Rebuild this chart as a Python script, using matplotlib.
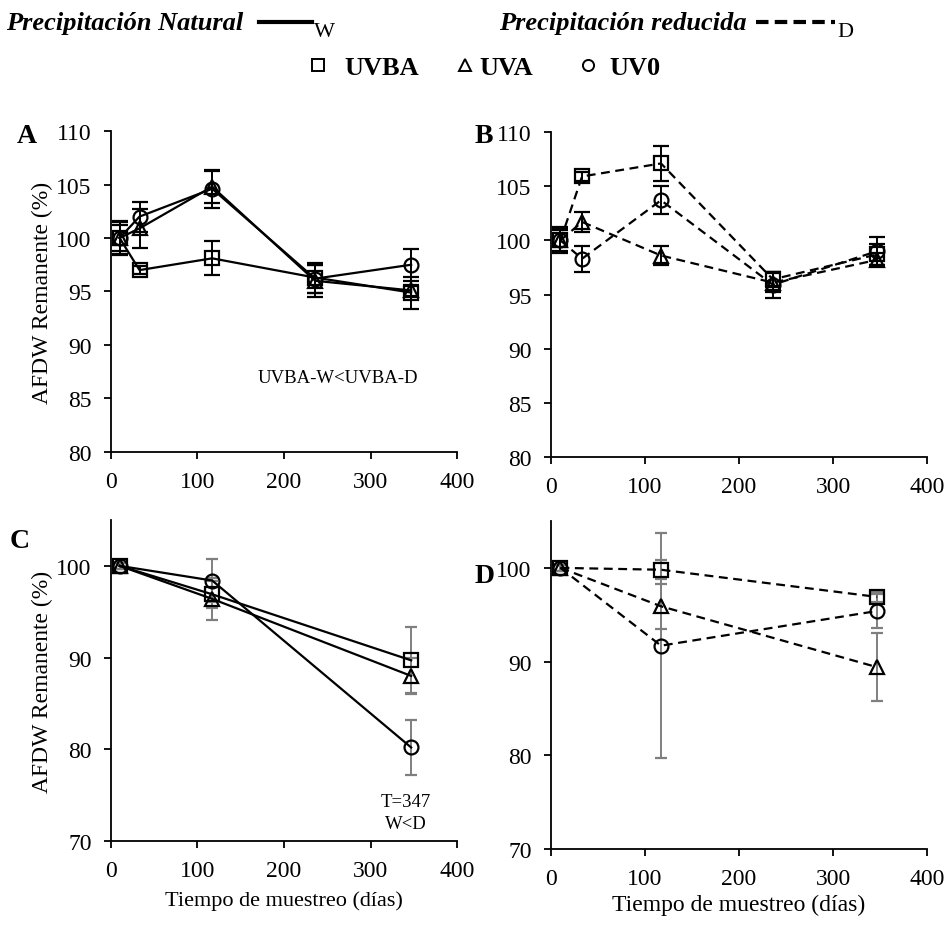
import matplotlib
matplotlib.use("Agg")
import matplotlib.pyplot as plt
from matplotlib.lines import Line2D

plt.rcParams["font.family"] = ["Liberation Serif", "DejaVu Serif"]

# ── data ─────────────────────────────────────────────────────
days_ab = [10, 33, 117, 236, 347]
days_cd = [10, 117, 347]

# panel A: natural precipitation (W)
a_uvba = [100.0, 97.0, 98.1, 96.3, 94.9]
a_uvba_err = [1.5, 0.4, 1.6, 1.4, 1.5]
a_uva = [100.0, 100.9, 104.8, 96.0, 95.1]
a_uva_err = [1.6, 1.8, 1.5, 1.5, 0.5]
a_uv0 = [100.0, 102.0, 104.6, 96.2, 97.5]
a_uv0_err = [1.2, 1.4, 1.8, 1.3, 1.5]

# panel B: reduced precipitation (D)
b_uvba = [100.0, 105.9, 107.1, 96.4, 98.7]
b_uvba_err = [1.1, 0.4, 1.6, 0.7, 1.0]
b_uva = [100.0, 101.7, 98.6, 96.1, 98.2]
b_uva_err = [1.0, 0.9, 0.9, 0.9, 0.6]
b_uv0 = [100.0, 98.3, 103.7, 95.9, 99.0]
b_uv0_err = [1.2, 1.2, 1.3, 1.2, 1.3]

# panel C: natural precipitation (W)
c_uvba = [100.0, 96.9, 89.7]
c_uvba_err = [0.3, 1.5, 3.6]
c_uva = [100.0, 96.4, 88.0]
c_uva_err = [0.3, 2.3, 2.0]
c_uv0 = [100.0, 98.4, 80.2]
c_uv0_err = [0.3, 2.3, 3.0]

# panel D: reduced precipitation (D)
d_uvba = [100.0, 99.8, 96.9]
d_uvba_err = [0.3, 1.0, 0.5]
d_uva = [100.0, 95.9, 89.4]
d_uva_err = [0.3, 2.4, 3.6]
d_uv0 = [100.0, 91.7, 95.4]
d_uv0_err = [0.3, 12.0, 1.8]

markers = {"UVBA": "s", "UVA": "^", "UV0": "o"}
DASH = (0, (4, 2.5))

fig = plt.figure(figsize=(9.46, 9.29), dpi=100)

axA = fig.add_axes([0.1173, 0.5124, 0.3658, 0.3455])
axB = fig.add_axes([0.5825, 0.5070, 0.3974, 0.3498])
axC = fig.add_axes([0.1173, 0.0936, 0.3658, 0.3456])
axD = fig.add_axes([0.5825, 0.0850, 0.3974, 0.3531])


def draw(ax, x, series, ls, ecolor, capsize):
    for name, y, err in series:
        ax.errorbar(x, y, yerr=err, color="black", ls=ls, lw=1.6,
                    marker=markers[name], ms=10, mfc="none", mec="black",
                    mew=1.6, ecolor=ecolor, elinewidth=1.4,
                    capsize=capsize, capthick=1.4)


draw(axA, days_ab, [("UVBA", a_uvba, a_uvba_err), ("UVA", a_uva, a_uva_err),
                    ("UV0", a_uv0, a_uv0_err)], "-", "black", 5.5)
draw(axB, days_ab, [("UVBA", b_uvba, b_uvba_err), ("UVA", b_uva, b_uva_err),
                    ("UV0", b_uv0, b_uv0_err)], DASH, "black", 5.5)
draw(axC, days_cd, [("UVBA", c_uvba, c_uvba_err), ("UVA", c_uva, c_uva_err),
                    ("UV0", c_uv0, c_uv0_err)], "-", "#7f7f7f", 4)
draw(axD, days_cd, [("UVBA", d_uvba, d_uvba_err), ("UVA", d_uva, d_uva_err),
                    ("UV0", d_uv0, d_uv0_err)], DASH, "#7f7f7f", 4)

for ax in (axA, axB, axC, axD):
    ax.set_xlim(0, 400)
    ax.set_xticks([0, 100, 200, 300, 400])
    for s in ("top", "right"):
        ax.spines[s].set_visible(False)
    for s in ("left", "bottom"):
        ax.spines[s].set_linewidth(1.3)
    ax.tick_params(direction="out", length=5, width=1.3, labelsize=17)
    ax.tick_params(axis="y", pad=9)
    ax.tick_params(axis="x", pad=9)

for ax in (axA, axB):
    ax.set_ylim(80, 110)
    ax.set_yticks(range(80, 111, 5))
for ax in (axC, axD):
    ax.set_ylim(70, 105)
    ax.set_yticks([70, 80, 90, 100])

axA.set_ylabel("AFDW Remanente (%)", fontsize=17, labelpad=2)
axC.set_ylabel("AFDW Remanente (%)", fontsize=17, labelpad=2)
axC.set_xlabel("Tiempo de muestreo (días)", fontsize=16, labelpad=6)
axD.set_xlabel("Tiempo de muestreo (días)", fontsize=17, labelpad=3)

axA.text(262, 87, "UVBA-W<UVBA-D", fontsize=13.5, ha="center", va="center")
axC.text(341, 74.3, "T=347", fontsize=13.5, ha="center", va="center")
axC.text(341, 71.9, "W<D", fontsize=13.5, ha="center", va="center")

# panel letters
for lbl, x, y in (("A", 0.018, 0.846), ("B", 0.502, 0.846),
                  ("C", 0.010, 0.410), ("D", 0.502, 0.372)):
    fig.text(x, y, lbl, fontsize=20, fontweight="bold", va="baseline")

# ── legend at the top ──────────────────────────────────────
W, H = 946.0, 929.0
fig.text(6 / W, 1 - 30 / H, "Precipitación Natural", fontsize=19,
         fontweight="bold", style="italic", va="baseline")
fig.add_artist(Line2D([259 / W, 312 / W], [1 - 23 / H] * 2, color="black",
                      lw=3, transform=fig.transFigure))
fig.text(314 / W, 1 - 37 / H, "W", fontsize=16, va="baseline")
fig.text(499 / W, 1 - 30 / H, "Precipitación reducida", fontsize=19,
         fontweight="bold", style="italic", va="baseline")
fig.add_artist(Line2D([756 / W, 835 / W], [1 - 23 / H] * 2, color="black",
                      lw=3, ls=(0, (3, 1.5)), transform=fig.transFigure))
fig.text(837 / W, 1 - 37 / H, "D", fontsize=16, va="baseline")

for name, mx, tx in (("UVBA", 318, 344), ("UVA", 465, 479), ("UV0", 588, 609)):
    fig.add_artist(Line2D([mx / W], [1 - 66 / H], marker=markers[name],
                          ms=8, mfc="none", mec="black", mew=1.4, ls="none",
                          transform=fig.transFigure))
    fig.text(tx / W, 1 - 75 / H, name, fontsize=19, fontweight="bold",
             va="baseline")

fig.savefig("out.png", dpi=100)
